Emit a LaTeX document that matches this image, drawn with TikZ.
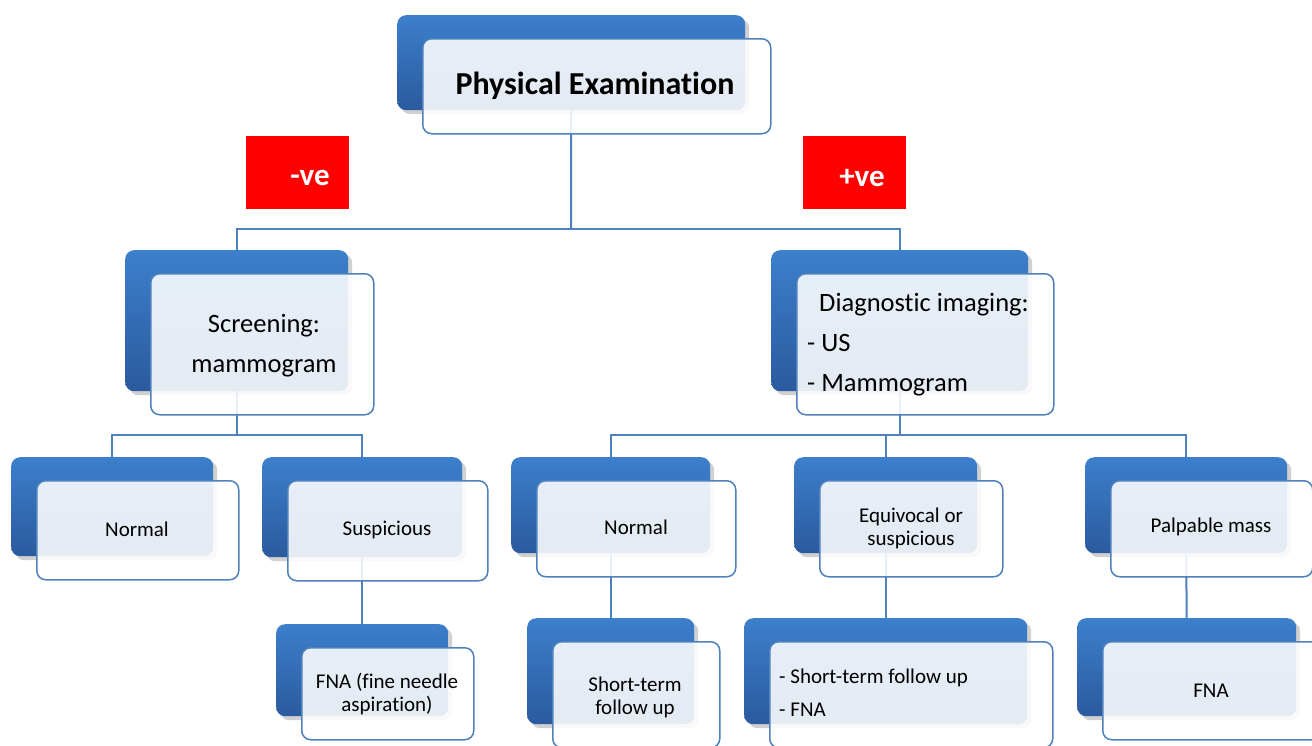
\documentclass[tikz,border=0pt]{standalone}
\usepackage{fontspec}
\setmainfont{Carlito}[RawFeature={-liga;-clig;-calt;-dlig}]
\usetikzlibrary{shadows,backgrounds}
\definecolor{bluetop}{RGB}{60,127,203}
\definecolor{bluebot}{RGB}{43,90,158}
\definecolor{edgec}{RGB}{79,129,189}
\definecolor{redlbl}{RGB}{255,0,0}
\tikzset{
  backbox/.style={anchor=north west, rounded corners=9pt, top color=bluetop, bottom color=bluebot, draw=none, inner sep=0pt,
    drop shadow={shadow xshift=4pt, shadow yshift=-4pt, opacity=0.3, fill=black!60}},
  frontbox/.style={anchor=north west, rounded corners=9pt, draw=edgec, line width=1.5pt, fill=white, fill opacity=0.88, inner sep=0pt},
  conn/.style={draw=edgec, line width=2pt},
  redbox/.style={anchor=north west, fill=redlbl, draw=none, minimum width=103pt, minimum height=73pt, inner sep=0pt},
  redtxt/.style={text=white, inner sep=0pt, font=\fontsize{31}{34}\selectfont\bfseries},
  titletxt/.style={inner sep=0pt, font=\fontsize{32}{36}\selectfont\bfseries},
  midtxt/.style={inner sep=0pt, font=\fontsize{26.5}{40}\selectfont, align=center},
  smalltxt/.style={inner sep=0pt, font=\fontsize{21}{23}\selectfont, align=center},
}
\newcommand\boxpair[5]{%
  \node[backbox, minimum width=#4pt, minimum height=#5pt] (#1B) at (#2,#3) {};
  \node[frontbox, minimum width=#4pt, minimum height=#5pt] (#1F) at (#2+25,#3+23) {};
}
\begin{document}
\begin{tikzpicture}[x=1pt,y=-1pt]
\useasboundingbox (0,0) rectangle (1312,745);

% boxes
\boxpair{top}{397}{15}{348}{95}
\boxpair{scr}{125}{250}{223}{141}
\boxpair{dia}{771}{250}{257}{141}
\boxpair{nl}{11}{457}{202}{99}
\boxpair{sus}{262}{457}{200}{100}
\boxpair{nr}{511}{457}{199}{96}
\boxpair{eq}{794}{457}{183}{96}
\boxpair{pal}{1085}{457}{202}{96}
\boxpair{fnaa}{276}{624}{172}{92}
\boxpair{stf}{527}{618}{167}{106}
\boxpair{sff}{744}{618}{283}{106}
\boxpair{fnab}{1077}{618}{219}{98}

% red labels
\node[redbox] (negB) at (246,136) {};
\node[redbox] (posB) at (803,136) {};
\node[redtxt] (negT) at (310,178) {-ve};
\node[redtxt] (posT) at (862,178) {+ve};

% texts
\node[titletxt] (topT) at (595,86) {Physical Examination};
\node[midtxt] (scrT) at (264,346) {Screening:\\mammogram};
\node[midtxt, align=left, anchor=west] (diaT) at (807,345) {\hspace{12pt}Diagnostic imaging:\\- US\\- Mammogram};
\node[smalltxt] (nlT) at (137,529) {Normal};
\node[smalltxt] (susT) at (387,530) {Suspicious};
\node[smalltxt] (nrT) at (636,527) {Normal};
\node[smalltxt] (eqT) at (911,528) {Equivocal or\\suspicious};
\node[smalltxt] (palT) at (1211,527) {Palpable mass};
\node[smalltxt] (fnaaT) at (387,694) {FNA (fine needle\\aspiration)};
\node[smalltxt] (stfT) at (635,697) {Short-term\\follow up};
\node[smalltxt, align=left, anchor=west, font=\fontsize{21}{33}\selectfont] (sffT) at (779,693) {- Short-term follow up\\- FNA};
\node[smalltxt] (fnabT) at (1211,691) {FNA};

% connectors
\begin{pgfonlayer}{background}
\fill[white] (0,0) rectangle (1312,745);
\coordinate (j0) at (571,229);
\coordinate (j1) at (236,435);
\coordinate (j2) at (900,435);
\draw[conn] (topB.south) -- (j0);
\draw[conn] (scrB.north) -- (scrB.north |- j0) -- (diaB.north |- j0) -- (diaB.north);
\draw[conn] (scrB.south) -- (scrB.south |- j1);
\draw[conn] (nlB.north) -- (nlB.north |- j1) -- (susB.north |- j1) -- (susB.north);
\draw[conn] (diaB.south) -- (diaB.south |- j2);
\draw[conn] (nrB.north) -- (nrB.north |- j2) -- (palB.north |- j2) -- (palB.north);
\draw[conn] (eqB.north) -- (eqB.north |- j2);
\draw[conn] (susB.south) -- (fnaaB.north);
\draw[conn] (nrB.south) -- (stfB.north);
\draw[conn] (eqB.south) -- (sffB.north);
\draw[conn] (palB.south) -- (fnabB.north);
\end{pgfonlayer}
\end{tikzpicture}
\end{document}
